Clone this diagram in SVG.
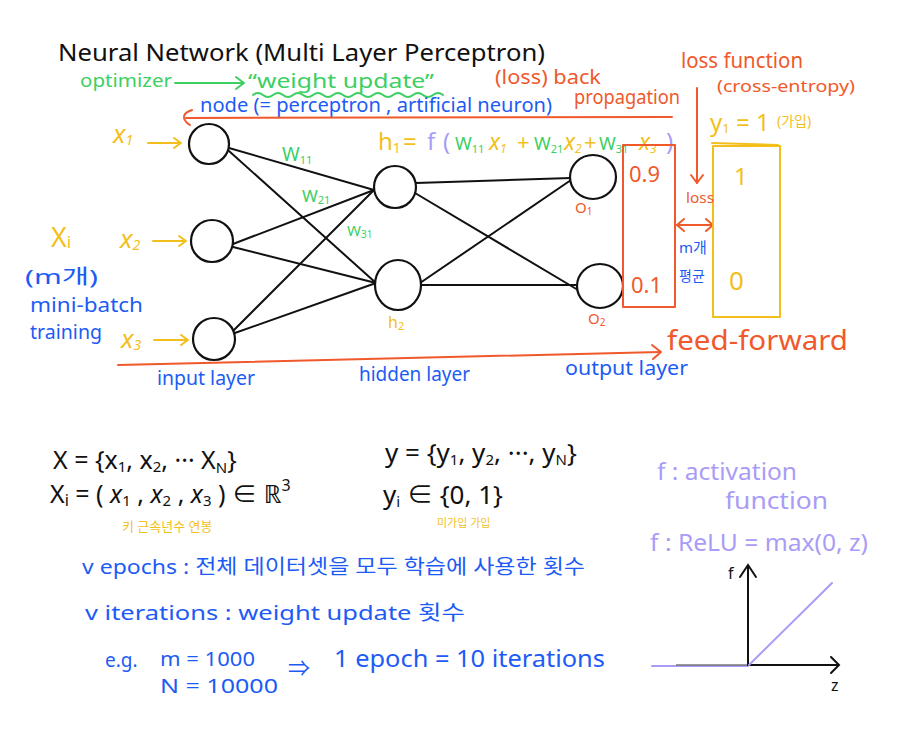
<svg xmlns="http://www.w3.org/2000/svg" width="912" height="741" viewBox="0 0 912 741">
<defs>
<style>
text{font-family:"Noto Sans","Noto Sans CJK KR",sans-serif;}
.k{fill:#111}.g{fill:#3ccf62}.y{fill:#f2bf1c}.o{fill:#f0592c}.b{fill:#1d5bf5}.p{fill:#a99cf6}
.ln{stroke:#111;stroke-width:2;fill:none;stroke-linecap:round}
.nd{stroke:#111;stroke-width:2.2;fill:#fff}
.os{stroke:#f0592c;stroke-width:2;fill:none;stroke-linecap:round;stroke-linejoin:round}
.gs{stroke:#3ccf62;stroke-width:2;fill:none;stroke-linecap:round;stroke-linejoin:round}
.ys{stroke:#f2bf1c;stroke-width:2;fill:none;stroke-linecap:round;stroke-linejoin:round}
.ps{stroke:#a99cf6;stroke-width:2;fill:none;stroke-linecap:round}
</style>
</defs>
<rect width="912" height="741" fill="#fff"/>

<!-- headers -->
<text class="k" x="58" y="61" font-size="24" textLength="487" lengthAdjust="spacingAndGlyphs">Neural Network (Multi Layer Perceptron)</text>
<text class="g" x="80" y="87" font-size="18" textLength="92" lengthAdjust="spacingAndGlyphs">optimizer</text>
<text class="g" x="248" y="88" font-size="20" textLength="186" lengthAdjust="spacingAndGlyphs">“weight update”</text>
<path class="gs" d="M253,95 q5,-4 10,0 t10,0 t10,0 t10,0 t10,0 t10,0 t10,0 t10,0 t10,0 t10,0 t10,0 t10,0 t10,0 t10,0 t10,0 t10,0 t10,0 t10,0 t10,0"/>
<text class="o" x="495" y="84" font-size="19" textLength="106" lengthAdjust="spacingAndGlyphs">(loss) back</text>
<text class="o" x="574" y="104" font-size="20" textLength="106" lengthAdjust="spacingAndGlyphs">propagation</text>
<text class="o" x="681" y="68" font-size="22" textLength="122" lengthAdjust="spacingAndGlyphs">loss function</text>
<text class="o" x="717" y="92" font-size="17" textLength="138" lengthAdjust="spacingAndGlyphs">(cross-entropy)</text>
<text class="b" x="200" y="112" font-size="19" textLength="352" lengthAdjust="spacingAndGlyphs">node (= perceptron , artificial neuron)</text>

<!-- equation h1 -->
<g id="eq-h1" font-size="24">
<text class="y" x="378" y="150">h<tspan font-size="14" dy="3">1</tspan></text>
<text class="y" x="403" y="150">=</text>
<text class="p" x="427" y="150">f</text>
<text class="p" x="443" y="150">(</text>
<text class="g" x="455" y="150" font-size="18">W<tspan font-size="11" dy="3">11</tspan></text>
<text class="y" x="489" y="150" font-size="23" font-style="italic">x<tspan font-size="12" dy="3">1</tspan></text>
<text class="y" x="517" y="150" font-size="22">+</text>
<text class="g" x="534" y="150" font-size="18">W<tspan font-size="11" dy="3">21</tspan></text>
<text class="y" x="564" y="150" font-size="23" font-style="italic">x<tspan font-size="12" dy="3">2</tspan></text>
<text class="y" x="584" y="150" font-size="22">+</text>
<text class="g" x="599" y="150" font-size="18">W<tspan font-size="11" dy="3">31</tspan></text>
<text class="y" x="639" y="150" font-size="23" font-style="italic">x<tspan font-size="12" dy="3">3</tspan></text>
<text class="p" x="666" y="150">)</text>
</g>

<!-- connectors -->
<g id="connectors">
<line class="ln" x1="229" y1="148" x2="374" y2="190"/>
<line class="ln" x1="229" y1="151" x2="376" y2="283"/>
<line class="ln" x1="233" y1="244" x2="374" y2="190"/>
<line class="ln" x1="233" y1="247" x2="376" y2="283"/>
<line class="ln" x1="232" y1="332" x2="374" y2="190"/>
<line class="ln" x1="232" y1="334" x2="376" y2="283"/>
<line class="ln" x1="416" y1="183" x2="571" y2="178"/>
<line class="ln" x1="415" y1="193" x2="578" y2="290"/>
<line class="ln" x1="420" y1="283" x2="571" y2="180"/>
<line class="ln" x1="421" y1="285" x2="577" y2="285"/>
<!-- optimizer arrow -->
<line class="gs" x1="175" y1="83" x2="243" y2="83"/>
<polyline class="gs" points="236,77 244,83 236,89"/>
<!-- back propagation line -->
<line class="os" x1="186" y1="118" x2="672" y2="117"/>
<path class="os" d="M192,110 Q183,113 184,118 Q185,122 190,125"/>
<!-- loss arrow -->
<line class="os" x1="697" y1="88" x2="697" y2="183"/>
<polyline class="os" points="691,175 697,183 703,175"/>
<line class="os" x1="677" y1="225" x2="713" y2="225"/>
<polyline class="os" points="684,219 677,225 684,231"/>
<polyline class="os" points="706,219 713,225 706,231"/>
<!-- feed forward -->
<line class="os" x1="118" y1="365" x2="660" y2="352"/>
<polyline class="os" points="652,345 661,352 653,359"/>
<!-- input arrows -->
<line class="ys" x1="148" y1="143" x2="180" y2="143"/>
<polyline class="ys" points="174,138 181,143 174,148"/>
<line class="ys" x1="153" y1="241" x2="185" y2="241"/>
<polyline class="ys" points="179,236 186,241 179,246"/>
<line class="ys" x1="154" y1="340" x2="187" y2="340"/>
<polyline class="ys" points="181,335 188,340 181,345"/>
</g>

<!-- nodes -->
<g id="in1"><circle class="nd" cx="209" cy="144" r="20"/></g>
<g id="in2"><circle class="nd" cx="212" cy="241" r="21"/></g>
<g id="in3"><circle class="nd" cx="214" cy="339" r="21"/></g>
<g id="h1"><circle class="nd" cx="395" cy="187" r="21"/></g>
<g id="h2"><ellipse class="nd" cx="398" cy="285" rx="23" ry="25"/></g>
<g id="o1"><ellipse class="nd" cx="593" cy="177" rx="23" ry="22"/></g>
<g id="o2"><ellipse class="nd" cx="600" cy="286" rx="23" ry="22"/></g>

<!-- weights -->
<text class="g" x="282" y="161" font-size="19">W<tspan font-size="11" dy="3">11</tspan></text>
<text class="g" x="302" y="202" font-size="17">W<tspan font-size="11" dy="2">21</tspan></text>
<text class="g" x="347" y="236" font-size="15">W<tspan font-size="10" dy="2">31</tspan></text>

<!-- node labels -->
<text class="y" x="388" y="328" font-size="16">h<tspan font-size="11" dy="2">2</tspan></text>
<text class="o" x="575" y="213" font-size="15">O<tspan font-size="10" dy="2">1</tspan></text>
<text class="o" x="588" y="324" font-size="15">O<tspan font-size="10" dy="2">2</tspan></text>

<!-- inputs -->
<text class="y" x="113" y="143" font-size="26" font-style="italic">x<tspan font-size="14" dy="2">1</tspan></text>
<text class="y" x="120" y="248" font-size="26" font-style="italic">x<tspan font-size="14" dy="2">2</tspan></text>
<text class="y" x="121" y="348" font-size="26" font-style="italic">x<tspan font-size="14" dy="2">3</tspan></text>
<text class="y" x="51" y="247" font-size="27">X<tspan font-size="17" dy="1">i</tspan></text>
<text class="b" x="25" y="284" font-size="20" textLength="73" lengthAdjust="spacingAndGlyphs">(m개)</text>
<text class="b" x="30" y="312" font-size="20" textLength="113" lengthAdjust="spacingAndGlyphs">mini-batch</text>
<text class="b" x="30" y="339" font-size="20" textLength="72" lengthAdjust="spacingAndGlyphs">training</text>

<text class="o" x="667" y="350" font-size="27" textLength="181" lengthAdjust="spacingAndGlyphs">feed-forward</text>
<text class="b" x="157" y="385" font-size="19" textLength="98" lengthAdjust="spacingAndGlyphs">input layer</text>
<text class="b" x="359" y="381" font-size="19" textLength="111" lengthAdjust="spacingAndGlyphs">hidden layer</text>
<text class="b" x="565" y="375" font-size="19" textLength="123" lengthAdjust="spacingAndGlyphs">output layer</text>

<!-- output / target boxes -->
<g id="pred-box">
<rect x="623" y="145" width="52" height="162" class="os"/>
<text class="o" x="629" y="182" font-size="22">0.9</text>
<text class="o" x="631" y="293" font-size="22">0.1</text>
</g>
<g id="target-box">
<rect x="713" y="146" width="67" height="171" class="ys"/>
<text class="y" x="734" y="185" font-size="24">1</text>
<text class="y" x="729" y="290" font-size="26">0</text>
</g>
<text class="y" x="710" y="131" font-size="24">y<tspan font-size="13" dy="2">1</tspan><tspan dy="-2"> = 1</tspan></text>
<line class="ys" x1="712" y1="143" x2="778" y2="145"/>
<text class="y" x="777" y="126" font-size="14">(가입)</text>
<text class="o" x="686" y="203" font-size="15" textLength="28" lengthAdjust="spacingAndGlyphs">loss</text>
<text class="b" x="679" y="253" font-size="15">m개</text>
<text class="b" x="679" y="281" font-size="14">평균</text>

<!-- math -->
<text class="k" x="53" y="469" font-size="25">X = {x<tspan font-size="15" dy="3">1</tspan><tspan dy="-3">, x</tspan><tspan font-size="15" dy="3">2</tspan><tspan dy="-3">, ··· X</tspan><tspan font-size="15" dy="4">N</tspan><tspan dy="-4">}</tspan></text>
<text class="k" x="50" y="503" font-size="25">X<tspan font-size="16" dy="3">i</tspan><tspan dy="-3"> = ( </tspan><tspan font-style="italic">x</tspan><tspan font-size="15" dy="3">1</tspan><tspan dy="-3"> , </tspan><tspan font-style="italic">x</tspan><tspan font-size="15" dy="3">2</tspan><tspan dy="-3"> , </tspan><tspan font-style="italic">x</tspan><tspan font-size="15" dy="3">3</tspan><tspan dy="-3"> ) ∈ ℝ</tspan><tspan font-size="16" dy="-12">3</tspan></text>
<text class="y" x="122" y="531" font-size="13">키  근속년수  연봉</text>

<text class="k" x="385" y="462" font-size="26">y = {y<tspan font-size="15" dy="3">1</tspan><tspan dy="-3">, y</tspan><tspan font-size="15" dy="3">2</tspan><tspan dy="-3">, ···, y</tspan><tspan font-size="15" dy="3">N</tspan><tspan dy="-3">}</tspan></text>
<text class="k" x="383" y="504" font-size="26">y<tspan font-size="15" dy="3">i</tspan><tspan dy="-3"> ∈ {0, 1}</tspan></text>
<text class="y" x="437" y="527" font-size="11">미가입  가입</text>

<text class="p" x="657" y="480" font-size="23" textLength="140" lengthAdjust="spacingAndGlyphs">f : activation</text>
<text class="p" x="725" y="509" font-size="23" textLength="103" lengthAdjust="spacingAndGlyphs">function</text>
<text class="p" x="650" y="551" font-size="23" textLength="218" lengthAdjust="spacingAndGlyphs">f : ReLU = max(0, z)</text>

<!-- ReLU graph -->
<g id="relu-graph">
<line class="ps" x1="652" y1="666" x2="748" y2="666"/>
<line x1="676" y1="665" x2="748" y2="665" stroke="#777" stroke-width="1.5"/>
<line class="ln" x1="748" y1="665" x2="748" y2="566"/>
<polyline class="ln" points="740,577 748,565 756,577"/>
<line class="ln" x1="748" y1="665" x2="838" y2="665"/>
<polyline class="ln" points="831,657 839,665 831,673"/>
<line class="ps" x1="749" y1="665" x2="832" y2="583"/>
<text class="k" x="728" y="579" font-size="16">f</text>
<text class="k" x="831" y="691" font-size="16">z</text>
</g>

<!-- bottom notes -->
<text class="b" x="82" y="574" font-size="20" textLength="503" lengthAdjust="spacingAndGlyphs">v epochs : 전체 데이터셋을 모두 학습에 사용한 횟수</text>
<text class="b" x="85" y="620" font-size="20" textLength="380" lengthAdjust="spacingAndGlyphs">v iterations : weight update 횟수</text>
<text class="b" x="105" y="667" font-size="19">e.g.</text>
<text class="b" x="160" y="666" font-size="20" textLength="95" lengthAdjust="spacingAndGlyphs">m = 1000</text>
<text class="b" x="160" y="693" font-size="20" textLength="118" lengthAdjust="spacingAndGlyphs">N = 10000</text>
<text class="b" x="288" y="676" font-size="22">⇒</text>
<text class="b" x="334" y="667" font-size="23" textLength="271" lengthAdjust="spacingAndGlyphs">1 epoch = 10 iterations</text>
</svg>
